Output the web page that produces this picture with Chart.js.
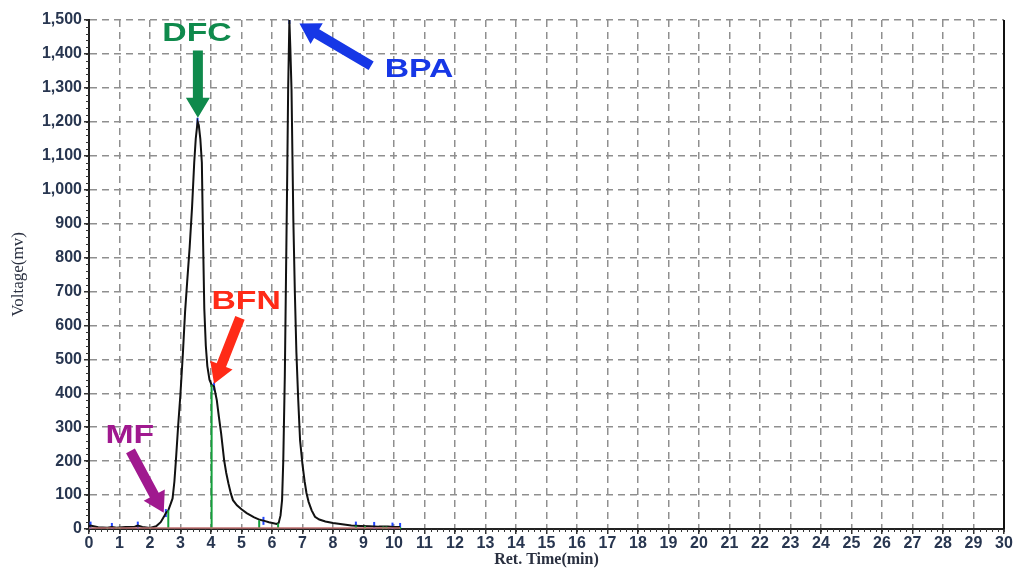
<!DOCTYPE html>
<html>
<head>
<meta charset="utf-8">
<script src="https://cdn.jsdelivr.net/npm/chart.js@4/dist/chart.umd.min.js"></script>
<style>
  html, body { margin: 0; padding: 0; background: #fff; }
</style>
</head>
<body>
<canvas id="chromChart" width="1014" height="569"></canvas>
<script>
// chromatogram trace (min / mV)
const retTime = [0, 0.05, 0.3, 0.6, 0.75, 0.9, 1.2, 1.5, 1.6, 1.75, 2.0, 2.2, 2.35, 2.45, 2.52, 2.6, 2.68, 2.74, 2.8, 2.85,
  2.92, 3.0, 3.08, 3.15, 3.22, 3.3, 3.38, 3.45, 3.5, 3.56, 3.6, 3.65, 3.7, 3.74, 3.78, 3.83, 3.88, 3.95, 4.02, 4.1,
  4.19, 4.26, 4.33, 4.43, 4.5, 4.57, 4.65, 4.72, 4.85, 5.0, 5.17, 5.4, 5.6, 5.75, 5.9, 6.05, 6.15, 6.22, 6.28, 6.33,
  6.37, 6.42, 6.46, 6.5, 6.53, 6.57, 6.6, 6.64, 6.67, 6.7, 6.75, 6.8, 6.86, 6.92, 7.0, 7.07, 7.13, 7.2, 7.3, 7.41,
  7.55, 7.75, 8.0, 8.3, 8.6, 8.9, 9.2, 9.5, 9.8, 10.0, 10.2];
const voltage = [8, 10, 5, 4, 6, 4, 6, 7, 10, 6, 3, 8, 20, 35, 47, 55, 75, 90, 140, 203,
  300, 400, 520, 640, 730, 830, 950, 1080, 1150, 1200, 1190, 1150, 1080, 850, 650, 540, 480, 440, 425, 420,
  380, 330, 283, 203, 165, 135, 105, 85, 70, 58, 47, 35, 27, 24, 20, 17, 15, 18, 40, 85,
  203, 450, 750, 1050, 1300, 1500, 1420, 1294, 1100, 910, 695, 520, 380, 262, 190, 140, 106, 80, 55, 36,
  28, 22, 18, 14, 10, 9, 8, 7, 7, 6, 6];

// integration marks
const dropTime   = [0.6, 0.9, 1.0, 2.0, 2.6, 4.02, 5.58, 6.2, 8.75, 9.05, 9.65, 9.75, 10.2];
const dropHeight = [4, 5, 5, 4, 55, 425, 26, 16, 10, 9, 7, 7, 6];
const apexTime   = [0.05, 0.75, 1.6, 2.52, 3.56, 4.1, 5.72, 6.57, 8.75, 9.35, 9.95, 10.2];
const apexValue  = [10, 6, 10, 47, 1200, 420, 24, 1500, 10, 9, 7, 6];

// peak labels: text position, arrow tail, arrow tip (data units)
const peakNames  = ["DFC", "BPA", "BFN", "MF"];
const peakColors = ["#0f8a4c", "#1637e6", "#ff2b17", "#a0198f"];
const labelX = [3.54, 10.82, 5.15, 1.34];
const labelY = [1459, 1353, 669, 274];
const tailX  = [3.57, 9.25, 4.95, 1.36];
const tailY  = [1410, 1365, 622, 230];
const tipX   = [3.57, 6.9, 4.1, 2.45];
const tipY   = [1212, 1490, 428, 48];

const xTicks = 30, yMax = 1500;

const canvas = document.getElementById("chromChart");

const trace = retTime.map((t, i) => ({ x: t, y: voltage[i] }));
const drops = [];
dropTime.forEach((t, i) => {
  drops.push({ x: t, y: 0 }, { x: t, y: dropHeight[i] }, { x: t, y: null });
});
const apex = apexTime.map((t, i) => ({ x: t, y: apexValue[i] }));

function drawArrow(ctx, x1, y1, x2, y2, color) {
  const ang = Math.atan2(y2 - y1, x2 - x1);
  const len = Math.hypot(x2 - x1, y2 - y1);
  const shaft = 5, headW = 12, headL = 20;
  ctx.save();
  ctx.translate(x1, y1);
  ctx.rotate(ang);
  ctx.fillStyle = color;
  ctx.beginPath();
  ctx.moveTo(0, -shaft);
  ctx.lineTo(len - headL, -shaft);
  ctx.lineTo(len - headL, -headW);
  ctx.lineTo(len, 0);
  ctx.lineTo(len - headL, headW);
  ctx.lineTo(len - headL, shaft);
  ctx.lineTo(0, shaft);
  ctx.closePath();
  ctx.fill();
  ctx.restore();
}

const extras = {
  id: "extras",
  afterDatasetsDraw(chart) {
    const { ctx, chartArea, scales: { x, y } } = chart;
    ctx.save();
    // right frame line
    ctx.strokeStyle = "#111";
    ctx.lineWidth = 2;
    ctx.beginPath();
    ctx.moveTo(chartArea.right, chartArea.top);
    ctx.lineTo(chartArea.right, chartArea.bottom);
    ctx.stroke();
    // minor ticks
    ctx.lineWidth = 1;
    ctx.strokeStyle = "#333";
    ctx.beginPath();
    for (let v = 0; v <= yMax; v += 20) {
      const py = Math.round(y.getPixelForValue(v)) + 0.5;
      ctx.moveTo(chartArea.left - 3, py);
      ctx.lineTo(chartArea.left, py);
    }
    for (let t = 0; t <= xTicks + 0.001; t += 0.2) {
      const px = Math.round(x.getPixelForValue(t)) + 0.5;
      ctx.moveTo(px, chartArea.bottom);
      ctx.lineTo(px, chartArea.bottom + 3);
    }
    ctx.stroke();
    // peak labels
    peakNames.forEach((name, i) => {
      drawArrow(ctx, x.getPixelForValue(tailX[i]), y.getPixelForValue(tailY[i]),
        x.getPixelForValue(tipX[i]), y.getPixelForValue(tipY[i]), peakColors[i]);
      ctx.save();
      ctx.translate(x.getPixelForValue(labelX[i]), y.getPixelForValue(labelY[i]));
      ctx.scale(1.35, 1);
      ctx.font = "bold 25px 'Liberation Sans', Arial, sans-serif";
      ctx.fillStyle = peakColors[i];
      ctx.textAlign = "center";
      ctx.textBaseline = "middle";
      ctx.fillText(name, 0, 0);
      ctx.restore();
    });
    ctx.restore();
  }
};

const tickFont = { family: "'Liberation Sans', Arial, sans-serif", size: 16, weight: "bold" };

new Chart(canvas, {
  type: "scatter",
  data: {
    datasets: [
      {
        label: "baseline",
        data: [{ x: 0, y: 3 }, { x: 10.2, y: 3 }],
        showLine: true,
        borderColor: "#c07070",
        borderWidth: 1.5,
        pointRadius: 0
      },
      {
        label: "drops",
        data: drops,
        showLine: true,
        spanGaps: false,
        borderColor: "#14a03c",
        borderWidth: 2,
        pointRadius: 0
      },
      {
        label: "signal",
        data: trace,
        showLine: true,
        borderColor: "#111",
        borderWidth: 2,
        pointRadius: 0,
        tension: 0
      },
      {
        label: "apex",
        data: apex,
        showLine: false,
        pointStyle: "line",
        rotation: 90,
        pointRadius: 4,
        borderColor: "#2346ff",
        borderWidth: 2
      }
    ]
  },
  options: {
    responsive: false,
    animation: false,
    layout: { padding: { top: 20, right: 10, left: 0, bottom: 0 } },
    plugins: {
      legend: { display: false },
      tooltip: { enabled: false }
    },
    scales: {
      x: {
        type: "linear",
        min: 0,
        max: xTicks,
        afterFit: s => { s.height = 40; },
        ticks: { stepSize: 1, font: tickFont, color: "#283650", padding: 0, maxRotation: 0, autoSkip: false },
        grid: { color: "#8f8f8f", lineWidth: 1.5, tickLength: 5, tickColor: "#333", tickBorderDash: [] },
        border: { display: true, color: "#222", width: 2, dash: [7, 5] },
        title: {
          display: true,
          text: "Ret. Time(min)",
          font: { family: "'Liberation Serif', 'Times New Roman', serif", size: 16, weight: "bold" },
          color: "#2a3040",
          padding: { top: 0, bottom: 0 }
        }
      },
      y: {
        min: 0,
        max: yMax,
        afterFit: s => { s.width = 89; },
        ticks: {
          stepSize: 100,
          font: tickFont,
          color: "#283650",
          padding: 2,
          callback: v => v.toLocaleString("en-US")
        },
        grid: { color: "#8f8f8f", lineWidth: 1.5, tickLength: 5, tickColor: "#333", tickBorderDash: [] },
        border: { display: true, color: "#222", width: 2, dash: [7, 5] },
        title: {
          display: true,
          text: "Voltage(mv)",
          font: { family: "'Liberation Serif', 'Times New Roman', serif", size: 17 },
          color: "#2a3040",
          padding: { top: 8, bottom: 0 }
        }
      }
    }
  },
  plugins: [extras]
});
</script>
</body>
</html>
